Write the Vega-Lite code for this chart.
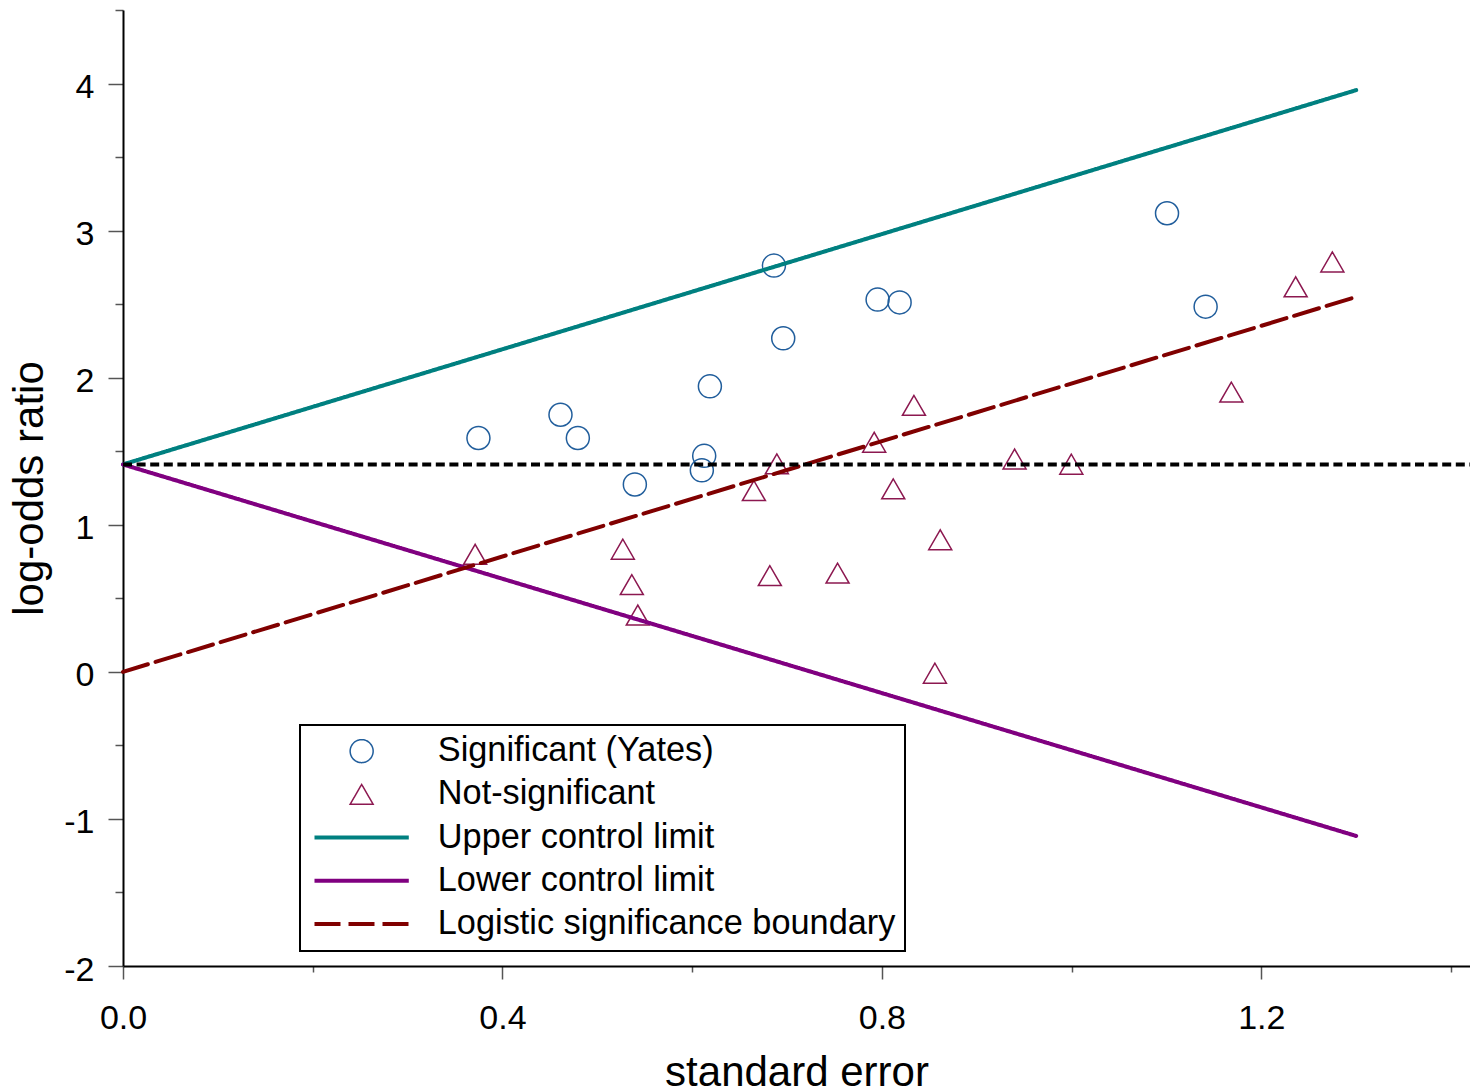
{
  "$schema": "https://vega.github.io/schema/vega-lite/v6.json",
  "width": 1347,
  "height": 956,
  "autosize": {"type": "none"},
  "padding": {"left": 123, "top": 10, "right": 0, "bottom": 124},
  "background": "white",
  "config": {
    "view": {"stroke": null},
    "font": "Liberation Sans",
    "axis": {"grid": false, "domainColor": "black", "domainWidth": 2, "tickColor": "#555555", "tickWidth": 1.5, "labelFont": "Liberation Sans", "labelFontSize": 34, "labelColor": "black", "titleFont": "Liberation Sans", "titleFontSize": 42, "titleFontWeight": "normal", "titleColor": "black", "labelBound": false, "labelOverlap": false, "labelFlush": false},
    "legend": {
      "orient": "none",
      "padding": 9,
      "strokeColor": "black",
      "fillColor": "white",
      "symbolSize": 529,
      "symbolOffset": 35.5,
      "labelOffset": 59,
      "labelFont": "Liberation Sans",
      "labelFontSize": 34.3,
      "labelColor": "black",
      "labelLimit": 0,
      "rowPadding": 8.2,
      "symbolFillColor": "transparent",
      "symbolOpacity": 1
    }
  },
  "datasets": {
    "points": [
      {"se": 0.3747, "lor": 1.590, "series": "Significant (Yates)"},
      {"se": 0.4612, "lor": 1.748, "series": "Significant (Yates)"},
      {"se": 0.4795, "lor": 1.590, "series": "Significant (Yates)"},
      {"se": 0.5396, "lor": 1.274, "series": "Significant (Yates)"},
      {"se": 0.6127, "lor": 1.469, "series": "Significant (Yates)"},
      {"se": 0.6102, "lor": 1.370, "series": "Significant (Yates)"},
      {"se": 0.6187, "lor": 1.941, "series": "Significant (Yates)"},
      {"se": 0.6862, "lor": 2.762, "series": "Significant (Yates)"},
      {"se": 0.6960, "lor": 2.268, "series": "Significant (Yates)"},
      {"se": 0.7955, "lor": 2.531, "series": "Significant (Yates)"},
      {"se": 0.8187, "lor": 2.512, "series": "Significant (Yates)"},
      {"se": 1.1006, "lor": 3.118, "series": "Significant (Yates)"},
      {"se": 1.1413, "lor": 2.483, "series": "Significant (Yates)"},
      {"se": 0.3712, "lor": 0.799, "series": "Not-significant"},
      {"se": 0.5269, "lor": 0.834, "series": "Not-significant"},
      {"se": 0.5364, "lor": 0.593, "series": "Not-significant"},
      {"se": 0.5427, "lor": 0.386, "series": "Not-significant"},
      {"se": 0.8338, "lor": 1.812, "series": "Not-significant"},
      {"se": 0.7919, "lor": 1.561, "series": "Not-significant"},
      {"se": 0.6893, "lor": 1.414, "series": "Not-significant"},
      {"se": 0.9399, "lor": 1.447, "series": "Not-significant"},
      {"se": 0.6651, "lor": 1.232, "series": "Not-significant"},
      {"se": 0.8120, "lor": 1.244, "series": "Not-significant"},
      {"se": 0.8615, "lor": 0.898, "series": "Not-significant"},
      {"se": 0.6819, "lor": 0.654, "series": "Not-significant"},
      {"se": 0.7533, "lor": 0.671, "series": "Not-significant"},
      {"se": 0.8559, "lor": -0.009, "series": "Not-significant"},
      {"se": 0.9997, "lor": 1.412, "series": "Not-significant"},
      {"se": 1.1684, "lor": 1.902, "series": "Not-significant"},
      {"se": 1.2362, "lor": 2.618, "series": "Not-significant"},
      {"se": 1.2749, "lor": 2.787, "series": "Not-significant"}
    ],
    "limits": [
      {"se": 0, "lor": 1.41, "series": "Upper control limit"},
      {"se": 1.3, "lor": 3.955, "series": "Upper control limit"},
      {"se": 0, "lor": 1.41, "series": "Lower control limit"},
      {"se": 1.3, "lor": -1.116, "series": "Lower control limit"},
      {"se": 0, "lor": 0, "series": "Logistic significance boundary"},
      {"se": 1.3, "lor": 2.549, "series": "Logistic significance boundary"}
    ],
    "ref": [
      {"se": 0, "lor": 1.41},
      {"se": 1.42, "lor": 1.41}
    ]
  },
  "encoding": {
    "x": {
      "field": "se", "type": "quantitative",
      "scale": {"domain": [0, 1.42], "nice": false, "zero": false},
      "axis": {
        "title": "standard error",
        "values": [0, 0.2, 0.4, 0.6, 0.8, 1.0, 1.2, 1.4],
        "labelExpr": "indexof([0, 0.4, 0.8, 1.2], datum.value) >= 0 ? format(datum.value, '.1f') : ''",
        "tickSize": {"condition": {"test": "indexof([0, 0.4, 0.8, 1.2], datum.value) >= 0", "value": 13}, "value": 6},
        "labelPadding": 22,
        "titlePadding": 17
      }
    },
    "y": {
      "field": "lor", "type": "quantitative",
      "scale": {"domain": [-2, 4.5], "nice": false, "zero": false},
      "axis": {
        "title": "log-odds ratio",
        "values": [-2, -1.5, -1, -0.5, 0, 0.5, 1, 1.5, 2, 2.5, 3, 3.5, 4, 4.5],
        "labelExpr": "datum.value % 1 === 0 ? '' + datum.value : ''",
        "tickSize": {"condition": {"test": "datum.value % 1 === 0", "value": 15}, "value": 8},
        "labelPadding": 14,
        "labelOffset": 4,
        "titlePadding": 12
      }
    }
  },
  "layer": [
    {
      "data": {"name": "points"},
      "mark": {"type": "point", "filled": false, "size": 529, "strokeWidth": 1.5, "opacity": 1},
      "encoding": {
        "color": {
          "field": "series", "type": "nominal",
          "scale": {
            "domain": ["Significant (Yates)", "Not-significant", "Upper control limit", "Lower control limit", "Logistic significance boundary"],
            "range": ["#215e9c", "#8c1850", "#008080", "#800080", "#800000"]
          },
          "legend": {"title": null, "legendX": 177, "legendY": 715}
        },
        "shape": {
          "field": "series", "type": "nominal",
          "scale": {
            "domain": ["Significant (Yates)", "Not-significant", "Upper control limit", "Lower control limit", "Logistic significance boundary"],
            "range": ["circle", "triangle-up", "M-4.1,0L4.1,0", "M-4.1,0L4.1,0", "M-4.1,0L4.1,0"]
          },
          "legend": {"title": null, "legendX": 177, "legendY": 715}
        }
      }
    },
    {
      "data": {"name": "limits"},
      "mark": {"type": "line", "strokeWidth": 4, "strokeCap": "round"},
      "encoding": {
        "color": {
          "field": "series", "type": "nominal",
          "scale": {
            "domain": ["Significant (Yates)", "Not-significant", "Upper control limit", "Lower control limit", "Logistic significance boundary"],
            "range": ["#215e9c", "#8c1850", "#008080", "#800080", "#800000"]
          },
          "legend": {"title": null, "legendX": 177, "legendY": 715}
        },
        "strokeDash": {
          "field": "series", "type": "nominal",
          "scale": {
            "domain": ["Significant (Yates)", "Not-significant", "Upper control limit", "Lower control limit", "Logistic significance boundary"],
            "range": [[1, 0], [1, 0], [1, 0], [1, 0], [26, 8]]
          },
          "legend": {
            "title": null, "legendX": 177, "legendY": 715,
            "encode": {
              "symbols": {"update": {"strokeWidth": {"signal": "indexof(['Significant (Yates)', 'Not-significant'], datum.value) >= 0 ? 1.5 : 4"}}},
              "legend": {"update": {"strokeWidth": {"value": 2}}}
            }
          }
        }
      }
    },
    {
      "data": {"name": "ref"},
      "mark": {"type": "line", "color": "black", "strokeWidth": 4, "strokeDash": [9, 4.6]},
      "encoding": {}
    }
  ]
}
